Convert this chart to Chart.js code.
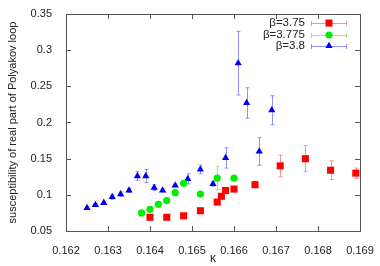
<!DOCTYPE html>
<html>
<head>
<meta charset="utf-8">
<script src="https://cdn.jsdelivr.net/npm/chart.js@4/dist/chart.umd.min.js"></script>
<style>
  html, body { margin: 0; padding: 0; background: #fff; }
</style>
</head>
<body>
<canvas id="chart" width="380" height="266"></canvas>
<script>
// tick labels
const xTicks = [0.162, 0.163, 0.164, 0.165, 0.166, 0.167, 0.168, 0.169];
const yTicks = [0.05, 0.1, 0.15, 0.2, 0.25, 0.3, 0.35];

// beta = 3.75
const kappa375 = [0.1640, 0.1644, 0.1648, 0.1652, 0.1656, 0.1657, 0.1658, 0.1660, 0.1665, 0.1671, 0.1677, 0.1683, 0.1689];
const chi375   = [0.069, 0.069, 0.071, 0.078, 0.090, 0.098, 0.106, 0.108, 0.114, 0.140, 0.150, 0.134, 0.130];
const err375   = [0.002, 0.002, 0.002, 0.002, 0.003, 0.003, 0.003, 0.003, 0.004, 0.015, 0.018, 0.013, 0.007];

// beta = 3.775
const kappa3775 = [0.1638, 0.1640, 0.1642, 0.1644, 0.1646, 0.1648, 0.1652, 0.1656, 0.1660];
const chi3775   = [0.075, 0.080, 0.087, 0.092, 0.103, 0.116, 0.101, 0.123, 0.123];
const err3775   = [0.002, 0.002, 0.002, 0.002, 0.002, 0.003, 0.002, 0.016, 0.003];

// beta = 3.8
const kappa38 = [0.1625, 0.1627, 0.1629, 0.1631, 0.1633, 0.1635, 0.1637, 0.1639, 0.1641, 0.1643, 0.1646, 0.1649, 0.1652, 0.1655, 0.1658, 0.1661, 0.1663, 0.1666, 0.1669];
const chi38   = [0.082, 0.086, 0.089, 0.097, 0.101, 0.106, 0.126, 0.126, 0.110, 0.106, 0.113, 0.122, 0.135, 0.115, 0.151, 0.282, 0.227, 0.160, 0.217];
const err38   = [0.002, 0.002, 0.002, 0.003, 0.003, 0.003, 0.006, 0.009, 0.004, 0.002, 0.002, 0.007, 0.006, 0.003, 0.014, 0.044, 0.021, 0.019, 0.020];

const labels = ['β=3.75', 'β=3.775', 'β=3.8'];

const toPoints = (xs, ys, es) => xs.map((x, i) => ({ x: x, y: ys[i], err: es[i] }));

// draws vertical error bars with small caps
const errorBars = {
    id: 'errorBars',
    beforeDatasetsDraw(chart) {
        const { ctx, scales: { x, y } } = chart;
        ctx.save();
        ctx.lineWidth = 1;
        chart.data.datasets.forEach(ds => {
            ctx.strokeStyle = ds.errorColor;
            ds.data.forEach(p => {
                const px = Math.round(x.getPixelForValue(p.x)) + 0.5;
                const top = y.getPixelForValue(p.y + p.err);
                const bot = y.getPixelForValue(p.y - p.err);
                ctx.beginPath();
                ctx.moveTo(px, top); ctx.lineTo(px, bot);
                ctx.moveTo(px - 2, top); ctx.lineTo(px + 2, top);
                ctx.moveTo(px - 2, bot); ctx.lineTo(px + 2, bot);
                ctx.stroke();
            });
        });
        ctx.restore();
    }
};

// gnuplot style frame with inward ticks on all four sides
const frame = {
    id: 'frame',
    beforeDatasetsDraw(chart) {
        const { ctx, chartArea: a, scales: { x, y } } = chart;
        ctx.save();
        ctx.strokeStyle = '#555';
        ctx.lineWidth = 1;
        ctx.strokeRect(Math.round(a.left) + 0.5, Math.round(a.top) + 0.5,
            Math.round(a.right - a.left), Math.round(a.bottom - a.top));
        ctx.beginPath();
        xTicks.forEach(v => {
            const px = Math.round(x.getPixelForValue(v)) + 0.5;
            ctx.moveTo(px, a.bottom); ctx.lineTo(px, a.bottom - 5);
            ctx.moveTo(px, a.top); ctx.lineTo(px, a.top + 5);
        });
        yTicks.forEach(v => {
            const py = Math.round(y.getPixelForValue(v)) + 0.5;
            ctx.moveTo(a.left, py); ctx.lineTo(a.left + 5, py);
            ctx.moveTo(a.right, py); ctx.lineTo(a.right - 5, py);
        });
        ctx.stroke();
        ctx.restore();
    }
};

// key in the top right corner: label, line sample with caps, marker
const key = {
    id: 'key',
    afterDraw(chart) {
        const { ctx, chartArea: a } = chart;
        ctx.save();
        ctx.font = '11.5px "Liberation Sans", Arial, sans-serif';
        ctx.textAlign = 'right';
        ctx.textBaseline = 'middle';
        chart.data.datasets.forEach((ds, i) => {
            const rowY = Math.round(a.top + 9 + i * 11.5);
            const x0 = a.right - 49, x1 = a.right - 13;
            ctx.fillStyle = '#222';
            ctx.fillText(labels[i], a.right - 55, rowY);
            ctx.strokeStyle = ds.errorColor;
            ctx.lineWidth = 1;
            ctx.beginPath();
            ctx.moveTo(x0, rowY + 0.5); ctx.lineTo(x1, rowY + 0.5);
            ctx.moveTo(x0 + 0.5, rowY - 2); ctx.lineTo(x0 + 0.5, rowY + 3);
            ctx.moveTo(x1 - 0.5, rowY - 2); ctx.lineTo(x1 - 0.5, rowY + 3);
            ctx.stroke();
            ctx.fillStyle = ds.backgroundColor;
            ctx.strokeStyle = ds.borderColor;
            Chart.helpers.drawPoint(ctx, {
                pointStyle: ds.pointStyle, radius: ds.pointRadius, borderWidth: 0, rotation: 0
            }, (x0 + x1) / 2, rowY);
        });
        ctx.restore();
    }
};

const ctx = document.getElementById('chart').getContext('2d');
new Chart(ctx, {
    type: 'scatter',
    data: {
        datasets: [
            {
                label: labels[0],
                data: toPoints(kappa375, chi375, err375),
                pointStyle: 'rect', pointRadius: 5, pointHoverRadius: 5,
                backgroundColor: '#ff0000', borderColor: '#ff0000', borderWidth: 0,
                errorColor: 'rgba(255,110,110,0.75)'
            },
            {
                label: labels[1],
                data: toPoints(kappa3775, chi3775, err3775),
                pointStyle: 'circle', pointRadius: 3.6, pointHoverRadius: 3.6,
                backgroundColor: '#00ee00', borderColor: '#00ee00', borderWidth: 0,
                errorColor: 'rgba(100,235,100,0.75)'
            },
            {
                label: labels[2],
                data: toPoints(kappa38, chi38, err38),
                pointStyle: 'triangle', pointRadius: 4.2, pointHoverRadius: 4.2,
                backgroundColor: '#0000ee', borderColor: '#0000ee', borderWidth: 0,
                errorColor: 'rgba(110,110,255,0.75)'
            }
        ]
    },
    options: {
        responsive: false,
        animation: false,
        layout: { padding: { left: 0, top: 14, right: 20, bottom: 0 } },
        plugins: { legend: { display: false }, tooltip: { enabled: false } },
        scales: {
            x: {
                type: 'linear',
                min: 0.162, max: 0.169,
                afterBuildTicks: s => { s.ticks = xTicks.map(v => ({ value: v })); },
                afterFit: s => { s.height = 35; },
                grid: { display: false },
                border: { display: false },
                ticks: {
                    padding: 5,
                    color: '#222',
                    font: { family: '"Liberation Sans", Arial, sans-serif', size: 11 },
                    maxRotation: 0,
                    callback: v => v.toFixed(3)
                },
                title: {
                    display: true, text: 'κ', color: '#222', padding: 0,
                    font: { family: '"Liberation Sans", Arial, sans-serif', size: 12 }
                }
            },
            y: {
                min: 0.05, max: 0.35,
                afterBuildTicks: s => { s.ticks = yTicks.map(v => ({ value: v })); },
                afterFit: s => { s.width = 66; },
                grid: { display: false },
                border: { display: false },
                ticks: {
                    padding: 6,
                    color: '#222',
                    font: { family: '"Liberation Sans", Arial, sans-serif', size: 11 },
                    callback: v => String(+v.toFixed(3))
                },
                title: {
                    display: true, text: 'susceptibility of real part of Polyakov loop',
                    color: '#222', padding: { top: 6, bottom: 0 },
                    font: { family: '"Liberation Sans", Arial, sans-serif', size: 11 }
                }
            }
        }
    },
    plugins: [frame, errorBars, key]
});
</script>
</body>
</html>
